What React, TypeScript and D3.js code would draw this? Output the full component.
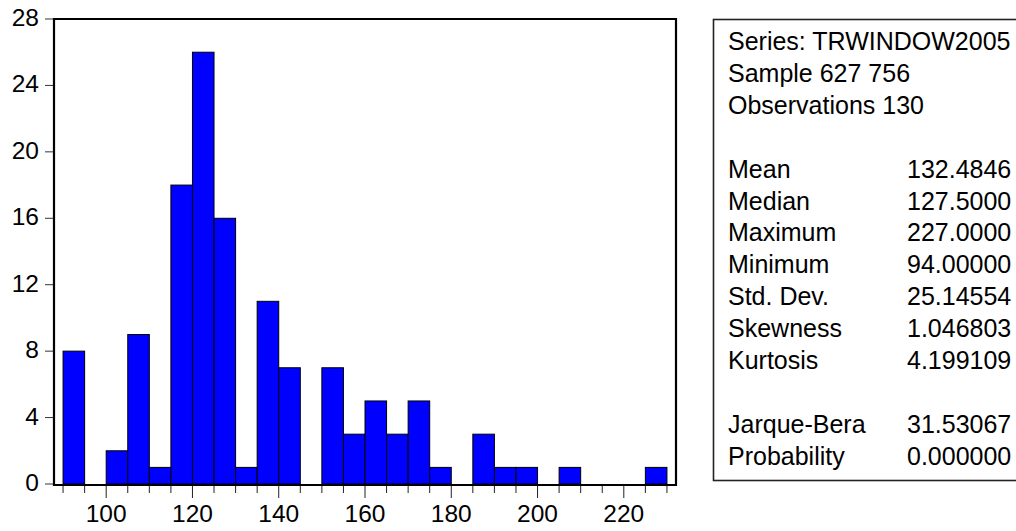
import { useEffect, useRef } from "react";
import * as d3 from "d3";

const binLower = [90, 95, 100, 105, 110, 115, 120, 125, 130, 135, 140, 145, 150, 155, 160, 165, 170, 175, 180, 185, 190, 195, 200, 205, 210, 215, 220, 225];
const counts = [8, 0, 2, 9, 1, 18, 26, 16, 1, 11, 7, 0, 7, 3, 5, 3, 5, 1, 0, 3, 1, 1, 0, 1, 0, 0, 0, 1];
const binWidth = 5;

const yTicks = [0, 4, 8, 12, 16, 20, 24, 28];
const xLabelTicks = [100, 120, 140, 160, 180, 200, 220];

const headerLines = ["Series: TRWINDOW2005", "Sample 627 756", "Observations 130"];
const statLabels = ["Mean", "Median", "Maximum", "Minimum", "Std. Dev.", "Skewness", "Kurtosis"];
const statValues = ["132.4846", "127.5000", "227.0000", "94.00000", "25.14554", "1.046803", "4.199109"];
const testLabels = ["Jarque-Bera", "Probability"];
const testValues = ["31.53067", "0.000000"];

const W = 1016, H = 531;
const FONT = "'Liberation Sans', Arial, sans-serif";

export default function App() {
  const ref = useRef<SVGSVGElement | null>(null);

  useEffect(() => {
    const svg = d3.select(ref.current);
    svg.selectAll("*").remove();

    const plot = { l: 54, r: 676, t: 19, b: 485 };

    const x = d3.scaleLinear().domain([87.9, 232.1]).range([plot.l, plot.r]);
    const y = d3.scaleLinear().domain([0, 28]).range([484, plot.t]);

    svg.append("rect").attr("width", W).attr("height", H).attr("fill", "white");

    // bars
    svg.append("g")
      .selectAll("rect")
      .data(binLower.map((b, i) => ({ b, c: counts[i] })).filter(d => d.c > 0))
      .enter()
      .append("rect")
      .attr("x", d => x(d.b))
      .attr("width", d => x(d.b + binWidth) - x(d.b))
      .attr("y", d => y(d.c))
      .attr("height", d => y(0) - y(d.c))
      .attr("fill", "#0000ff")
      .attr("stroke", "black")
      .attr("stroke-width", 1);

    // y ticks + labels
    const yg = svg.append("g");
    yTicks.forEach(t => {
      yg.append("line")
        .attr("x1", plot.l - 9).attr("x2", plot.l)
        .attr("y1", y(t)).attr("y2", y(t))
        .attr("stroke", "#333").attr("stroke-width", 1);
      yg.append("text")
        .attr("x", plot.l - 15)
        .attr("y", y(t) + 7)
        .attr("text-anchor", "end")
        .attr("font-family", FONT)
        .attr("font-size", 24.5)
        .attr("fill", "black")
        .text(t);
    });

    // x ticks (every bin edge, longer at labels)
    const xg = svg.append("g");
    const edges = binLower.concat([binLower[binLower.length - 1] + binWidth]);
    edges.forEach(e => {
      const major = xLabelTicks.includes(e);
      xg.append("line")
        .attr("x1", x(e)).attr("x2", x(e))
        .attr("y1", plot.b).attr("y2", plot.b + (major ? 13 : 8))
        .attr("stroke", "#222").attr("stroke-width", 1);
    });
    xLabelTicks.forEach(t => {
      xg.append("text")
        .attr("x", x(t))
        .attr("y", 522)
        .attr("text-anchor", "middle")
        .attr("font-family", FONT)
        .attr("font-size", 24.5)
        .attr("fill", "black")
        .text(t);
    });

    // frame
    svg.append("path")
      .attr("d", `M ${plot.l} ${plot.b} L ${plot.l} ${plot.t} L ${plot.r} ${plot.t} L ${plot.r} ${plot.b} Z`)
      .attr("fill", "none")
      .attr("stroke", "black")
      .attr("stroke-width", 2.2);

    // stats box
    svg.append("rect")
      .attr("x", 713.5).attr("y", 19.5)
      .attr("width", 400).attr("height", 461)
      .attr("fill", "none")
      .attr("stroke", "#222")
      .attr("stroke-width", 1.6);

    const rowY = (i: number) => 50 + 31.9 * i;
    const tg = svg.append("g")
      .attr("font-family", FONT)
      .attr("font-size", 25)
      .attr("fill", "black");

    headerLines.forEach((s, i) => {
      tg.append("text").attr("x", 728).attr("y", rowY(i)).text(s);
    });
    statLabels.forEach((s, i) => {
      tg.append("text").attr("x", 728).attr("y", rowY(i + 4)).text(s);
      tg.append("text").attr("x", 907).attr("y", rowY(i + 4)).text(statValues[i]);
    });
    testLabels.forEach((s, i) => {
      tg.append("text").attr("x", 728).attr("y", rowY(i + 12)).text(s);
      tg.append("text").attr("x", 907).attr("y", rowY(i + 12)).text(testValues[i]);
    });
  }, []);

  return (
    <svg
      ref={ref}
      width={W}
      height={H}
      viewBox={`0 0 ${W} ${H}`}
      style={{ position: "absolute", left: 0, top: 0, display: "block" }}
    />
  );
}
